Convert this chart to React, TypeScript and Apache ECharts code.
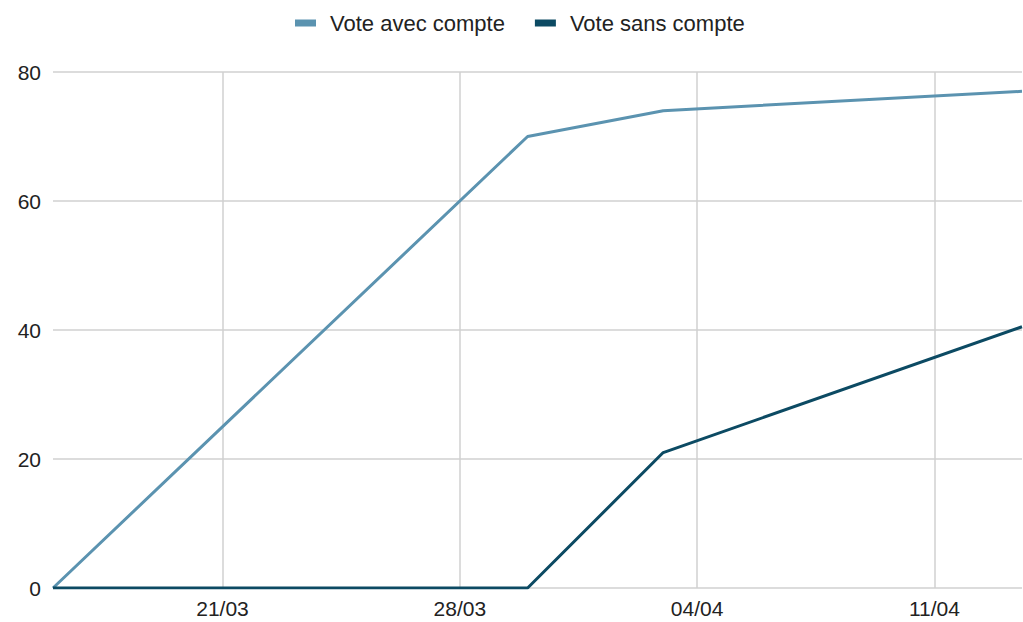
import React, { useEffect, useRef } from "react";
import * as echarts from "echarts";

const d = (day: number, month: number, hour = 0) => Date.UTC(2021, month - 1, day, hour);

const seriesNames = ["Vote avec compte", "Vote sans compte"];
const dates = [d(16, 3), d(30, 3), d(3, 4), d(13, 4, 14)];
const avecCompte = [0, 70, 74, 77];
const sansCompte = [0, 0, 21, 40.5];
const xTicks = [d(21, 3), d(28, 3), d(4, 4), d(11, 4)];
const yMin = 0;
const yMax = 80;
const yStep = 20;

const colors = ["#5b93b0", "#0c4a63"];

export default function App() {
  const ref = useRef<HTMLDivElement>(null);
  useEffect(() => {
    if (!ref.current) return;
    const chart = echarts.init(ref.current, null, { renderer: "svg" });
    const fmt = (v: number) => {
      const dt = new Date(v);
      const dd = String(dt.getUTCDate()).padStart(2, "0");
      const mm = String(dt.getUTCMonth() + 1).padStart(2, "0");
      return `${dd}/${mm}`;
    };
    chart.setOption({
      animation: false,
      backgroundColor: "#ffffff",
      color: colors,
      textStyle: { fontFamily: "Liberation Sans, Arial, sans-serif" },
      legend: {
        top: 7,
        left: 290,
        itemWidth: 21,
        itemHeight: 7,
        itemGap: 30,
        icon: "rect",
        textStyle: { fontSize: 22, color: "#222", padding: [0, 0, 0, 9] },
        data: seriesNames,
      },
      grid: { left: 53, right: 1, top: 72, bottom: 34, containLabel: false },
      xAxis: {
        type: "value",
        min: dates[0],
        max: dates[dates.length - 1],
        axisLine: { show: false },
        axisTick: { show: false, customValues: xTicks },
        axisLabel: {
          customValues: xTicks,
          formatter: (v: number) => fmt(v),
          fontSize: 21,
          color: "#222",
          margin: 10,
        },
        splitLine: { show: true, lineStyle: { color: "#d0d0d0", width: 1.5 } },
      },
      yAxis: {
        type: "value",
        min: yMin,
        max: yMax,
        interval: yStep,
        axisLine: { show: false },
        axisTick: { show: false },
        axisLabel: { fontSize: 21, color: "#222", margin: 12 },
        splitLine: { show: true, lineStyle: { color: "#d0d0d0", width: 1.5 } },
      },
      series: [
        {
          name: seriesNames[0],
          type: "line",
          data: dates.map((t, i) => [t, avecCompte[i]]),
          showSymbol: false,
          symbol: "none",
          lineStyle: { width: 3, color: colors[0] },
        },
        {
          name: seriesNames[1],
          type: "line",
          data: dates.map((t, i) => [t, sansCompte[i]]),
          showSymbol: false,
          symbol: "none",
          lineStyle: { width: 3, color: colors[1] },
        },
      ],
    });
    return () => chart.dispose();
  }, []);
  return (
    <div
      ref={ref}
      style={{ position: "absolute", left: 0, top: 0, width: 1023, height: 622 }}
    />
  );
}
